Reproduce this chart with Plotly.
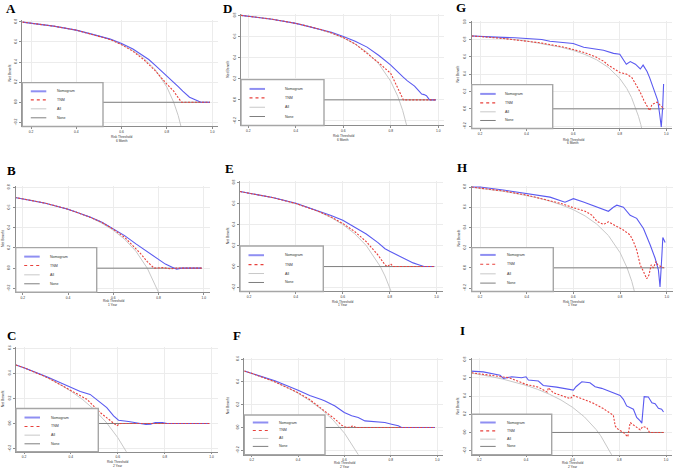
import plotly.graph_objects as go

# ---- data ----
A_all_x = [0.162, 0.2, 0.25, 0.3, 0.35, 0.4, 0.45, 0.5, 0.55, 0.6, 0.65, 0.7, 0.75, 0.8, 0.83, 0.85, 0.87]
A_all_y = [0.797, 0.788, 0.773, 0.757, 0.738, 0.717, 0.691, 0.66, 0.622, 0.575, 0.514, 0.433, 0.32, 0.15, 0.0, -0.133, -0.31]
A_nom_x = [0.162, 0.2, 0.3, 0.4, 0.5, 0.55, 0.6, 0.65, 0.7, 0.72, 0.75, 0.78, 0.8, 0.83, 0.85, 0.87, 0.89, 0.9, 0.92, 0.94, 0.95, 0.99]
A_nom_y = [0.797, 0.788, 0.757, 0.717, 0.662, 0.628, 0.585, 0.53, 0.455, 0.425, 0.365, 0.305, 0.265, 0.2, 0.155, 0.11, 0.07, 0.05, 0.03, 0.01, 0.0, 0.0]
A_tnm_x = [0.162, 0.2, 0.3, 0.4, 0.5, 0.55, 0.6, 0.65, 0.7, 0.75, 0.8, 0.83, 0.85, 0.865, 0.9, 0.99]
A_tnm_y = [0.797, 0.788, 0.757, 0.717, 0.66, 0.624, 0.572, 0.507, 0.42, 0.31, 0.18, 0.11, 0.045, 0.0, 0.0, 0.0]

D_all_x = [0.169, 0.2, 0.25, 0.3, 0.35, 0.4, 0.45, 0.5, 0.55, 0.6, 0.65, 0.7, 0.75, 0.8, 0.83, 0.85, 0.87]
D_all_y = [0.801, 0.794, 0.78, 0.764, 0.746, 0.725, 0.70, 0.67, 0.633, 0.587, 0.529, 0.45, 0.34, 0.175, 0.03, -0.1, -0.27]
D_nom_x = [0.169, 0.3, 0.4, 0.5, 0.55, 0.6, 0.65, 0.7, 0.75, 0.8, 0.83, 0.85, 0.87, 0.9, 0.92, 0.93, 0.94, 0.95, 0.96, 0.965, 0.99]
D_nom_y = [0.801, 0.764, 0.725, 0.672, 0.64, 0.60, 0.555, 0.50, 0.42, 0.33, 0.26, 0.22, 0.18, 0.13, 0.08, 0.055, 0.05, 0.04, 0.01, 0.0, 0.0]
D_tnm_x = [0.169, 0.3, 0.4, 0.5, 0.55, 0.6, 0.65, 0.7, 0.75, 0.8, 0.818, 0.832, 0.846, 0.853, 0.99]
D_tnm_y = [0.801, 0.764, 0.725, 0.67, 0.635, 0.59, 0.53, 0.44, 0.35, 0.25, 0.16, 0.10, 0.025, 0.0, 0.0]

G_all_x = [0.164, 0.2, 0.3, 0.4, 0.5, 0.55, 0.6, 0.65, 0.7, 0.75, 0.8, 0.83, 0.85, 0.87, 0.88, 0.89, 0.9]
G_all_y = [0.845, 0.838, 0.814, 0.783, 0.74, 0.71, 0.675, 0.628, 0.567, 0.48, 0.35, 0.235, 0.133, 0.0, -0.085, -0.18, -0.3]
G_nom_x = [0.164, 0.2, 0.25, 0.3, 0.35, 0.4, 0.45, 0.465, 0.5, 0.55, 0.6, 0.645, 0.7, 0.73, 0.773, 0.8, 0.828, 0.845, 0.867, 0.888, 0.9, 0.917, 0.928, 0.94, 0.953, 0.963, 0.971, 0.978, 0.984, 0.988]
G_nom_y = [0.84, 0.838, 0.83, 0.825, 0.82, 0.81, 0.795, 0.8, 0.78, 0.77, 0.755, 0.71, 0.69, 0.677, 0.64, 0.63, 0.515, 0.546, 0.515, 0.46, 0.505, 0.43, 0.36, 0.27, 0.19, 0.095, -0.06, -0.21, 0.02, 0.287]
G_tnm_x = [0.164, 0.2, 0.3, 0.4, 0.45, 0.5, 0.55, 0.6, 0.65, 0.7, 0.73, 0.75, 0.78, 0.8, 0.83, 0.852, 0.867, 0.888, 0.903, 0.917, 0.928, 0.938, 0.96, 0.974, 0.99]
G_tnm_y = [0.84, 0.835, 0.812, 0.785, 0.765, 0.742, 0.718, 0.685, 0.648, 0.595, 0.55, 0.505, 0.45, 0.42, 0.4, 0.36, 0.29, 0.19, 0.1, 0.04, -0.02, 0.05, 0.077, 0.04, 0.0]

B_all_x = [0.165, 0.2, 0.25, 0.3, 0.35, 0.4, 0.45, 0.5, 0.55, 0.6, 0.65, 0.7, 0.75, 0.78, 0.81]
B_all_y = [0.70, 0.688, 0.667, 0.643, 0.615, 0.583, 0.545, 0.5, 0.444, 0.375, 0.286, 0.167, 0.0, -0.136, -0.29]
B_nom_x = [0.165, 0.3, 0.4, 0.5, 0.55, 0.6, 0.65, 0.7, 0.75, 0.8, 0.83, 0.86, 0.88, 0.9, 0.99]
B_nom_y = [0.70, 0.643, 0.583, 0.503, 0.455, 0.392, 0.322, 0.24, 0.16, 0.08, 0.04, 0.01, -0.01, 0.0, 0.0]
B_tnm_x = [0.165, 0.3, 0.4, 0.5, 0.55, 0.6, 0.65, 0.7, 0.72, 0.75, 0.77, 0.78, 0.82, 0.85, 0.88, 0.99]
B_tnm_y = [0.70, 0.643, 0.583, 0.502, 0.452, 0.385, 0.305, 0.195, 0.145, 0.065, 0.02, 0.0, 0.005, -0.006, 0.0, 0.0]

E_all_x = [0.162, 0.2, 0.25, 0.3, 0.35, 0.4, 0.45, 0.5, 0.55, 0.6, 0.65, 0.7, 0.75, 0.76, 0.78, 0.8, 0.81]
E_all_y = [0.714, 0.70, 0.68, 0.657, 0.631, 0.60, 0.564, 0.52, 0.467, 0.40, 0.314, 0.20, 0.04, 0.0, -0.09, -0.2, -0.26]
E_nom_x = [0.162, 0.3, 0.4, 0.5, 0.55, 0.6, 0.65, 0.7, 0.75, 0.78, 0.8, 0.85, 0.88, 0.9, 0.92, 0.94, 0.946, 0.99]
E_nom_y = [0.714, 0.657, 0.602, 0.53, 0.487, 0.44, 0.375, 0.31, 0.228, 0.17, 0.145, 0.09, 0.05, 0.035, 0.02, 0.005, 0.0, 0.0]
E_tnm_x = [0.162, 0.3, 0.4, 0.5, 0.55, 0.6, 0.65, 0.7, 0.75, 0.77, 0.78, 0.79, 0.804, 0.815, 0.99]
E_tnm_y = [0.714, 0.657, 0.60, 0.522, 0.472, 0.41, 0.335, 0.237, 0.11, 0.047, 0.016, 0.0, 0.025, 0.0, 0.0]

H_all_x = [0.164, 0.2, 0.25, 0.3, 0.35, 0.4, 0.45, 0.5, 0.55, 0.6, 0.65, 0.7, 0.75, 0.8, 0.83, 0.85, 0.87]
H_all_y = [0.797, 0.788, 0.773, 0.757, 0.738, 0.717, 0.691, 0.66, 0.622, 0.575, 0.514, 0.433, 0.32, 0.15, 0.0, -0.133, -0.31]
H_nom_x = [0.164, 0.2, 0.3, 0.4, 0.5, 0.564, 0.6, 0.643, 0.714, 0.75, 0.771, 0.786, 0.814, 0.843, 0.871, 0.9, 0.929, 0.95, 0.964, 0.971, 0.979, 0.983, 0.993]
H_nom_y = [0.80, 0.80, 0.77, 0.734, 0.70, 0.65, 0.685, 0.652, 0.587, 0.56, 0.60, 0.62, 0.60, 0.52, 0.49, 0.39, 0.226, 0.095, -0.02, -0.19, 0.128, 0.30, 0.252]
H_tnm_x = [0.164, 0.2, 0.3, 0.4, 0.5, 0.55, 0.6, 0.65, 0.68, 0.7, 0.729, 0.75, 0.786, 0.814, 0.843, 0.857, 0.871, 0.879, 0.886, 0.9, 0.914, 0.924, 0.933, 0.943, 0.953, 0.961, 0.986]
H_tnm_y = [0.80, 0.79, 0.76, 0.72, 0.668, 0.635, 0.595, 0.56, 0.52, 0.462, 0.43, 0.456, 0.41, 0.374, 0.325, 0.26, 0.177, 0.11, 0.03, -0.036, -0.108, -0.069, 0.03, 0.0, 0.062, 0.03, 0.0]

C_all_x = [0.166, 0.2, 0.25, 0.3, 0.35, 0.4, 0.45, 0.5, 0.55, 0.6, 0.64]
C_all_y = [0.466, 0.444, 0.407, 0.364, 0.315, 0.258, 0.191, 0.11, 0.011, -0.113, -0.236]
C_nom_x = [0.166, 0.2, 0.3, 0.404, 0.44, 0.482, 0.525, 0.553, 0.582, 0.603, 0.646, 0.695, 0.72, 0.74, 0.76, 0.79, 0.81, 0.85, 0.99]
C_nom_y = [0.466, 0.444, 0.37, 0.28, 0.255, 0.232, 0.166, 0.127, 0.06, 0.026, 0.016, 0.0, -0.008, -0.005, 0.008, 0.008, 0.0, 0.0, 0.0]
C_tnm_x = [0.166, 0.2, 0.3, 0.404, 0.468, 0.525, 0.567, 0.596, 0.61, 0.7, 0.72, 0.74, 0.99]
C_tnm_y = [0.466, 0.444, 0.366, 0.262, 0.193, 0.087, 0.021, -0.018, 0.0, 0.0, -0.005, 0.0, 0.0]

F_all_x = [0.168, 0.2, 0.25, 0.3, 0.35, 0.4, 0.45, 0.5, 0.55, 0.6, 0.65, 0.66]
F_all_y = [0.495, 0.475, 0.44, 0.40, 0.354, 0.30, 0.236, 0.16, 0.067, -0.05, -0.2, -0.24]
F_nom_x = [0.168, 0.2, 0.3, 0.4, 0.45, 0.5, 0.516, 0.559, 0.599, 0.631, 0.659, 0.688, 0.731, 0.774, 0.803, 0.832, 0.846, 0.99]
F_nom_y = [0.495, 0.476, 0.41, 0.326, 0.28, 0.245, 0.233, 0.189, 0.131, 0.102, 0.087, 0.058, 0.049, 0.044, 0.029, 0.015, 0.0, 0.0]
F_tnm_x = [0.168, 0.2, 0.3, 0.4, 0.45, 0.516, 0.559, 0.588, 0.6, 0.616, 0.638, 0.648, 0.99]
F_tnm_y = [0.495, 0.475, 0.40, 0.305, 0.245, 0.145, 0.073, 0.02, 0.006, 0.0, 0.015, 0.0, 0.0]

I_all_x = [0.167, 0.2, 0.25, 0.3, 0.35, 0.4, 0.45, 0.5, 0.55, 0.6, 0.65, 0.7, 0.72, 0.74, 0.76, 0.77]
I_all_y = [0.652, 0.638, 0.613, 0.586, 0.554, 0.517, 0.473, 0.42, 0.356, 0.275, 0.171, 0.033, -0.036, -0.125, -0.208, -0.26]
I_nom_x = [0.164, 0.217, 0.289, 0.303, 0.339, 0.381, 0.4, 0.41, 0.453, 0.474, 0.531, 0.581, 0.603, 0.614, 0.639, 0.674, 0.696, 0.724, 0.767, 0.803, 0.817, 0.831, 0.86, 0.874, 0.889, 0.896, 0.906, 0.924, 0.939, 0.953, 0.967, 0.981, 0.989]
I_nom_y = [0.673, 0.665, 0.629, 0.593, 0.611, 0.60, 0.611, 0.575, 0.564, 0.516, 0.498, 0.48, 0.465, 0.502, 0.556, 0.545, 0.502, 0.484, 0.444, 0.407, 0.364, 0.291, 0.255, 0.164, 0.127, 0.102, 0.393, 0.389, 0.327, 0.316, 0.265, 0.255, 0.225]
I_tnm_x = [0.167, 0.25, 0.329, 0.4, 0.45, 0.491, 0.496, 0.517, 0.56, 0.59, 0.603, 0.646, 0.689, 0.731, 0.76, 0.774, 0.782, 0.789, 0.817, 0.836, 0.846, 0.874, 0.889, 0.9, 0.917, 0.929, 0.989]
I_tnm_y = [0.655, 0.628, 0.60, 0.527, 0.5, 0.444, 0.49, 0.436, 0.393, 0.371, 0.407, 0.364, 0.32, 0.262, 0.218, 0.189, 0.073, 0.044, 0.0, -0.047, 0.109, 0.055, 0.029, 0.065, 0.055, 0.0, 0.0]

none_x = [0.16, 0.99]
none_y = [0.0, 0.0]

x_ticks = [0.2, 0.4, 0.6, 0.8, 1.0]
legend_names = ['Nomogram', 'TNM', 'All', 'None']
periods = {'A': '6 Month', 'D': '6 Month', 'G': '6 Month',
           'B': '1 Year', 'E': '1 Year', 'H': '1 Year',
           'C': '2 Year', 'F': '2 Year', 'I': '2 Year'}

curves = {
    'A': (A_all_x, A_all_y, A_nom_x, A_nom_y, A_tnm_x, A_tnm_y),
    'D': (D_all_x, D_all_y, D_nom_x, D_nom_y, D_tnm_x, D_tnm_y),
    'G': (G_all_x, G_all_y, G_nom_x, G_nom_y, G_tnm_x, G_tnm_y),
    'B': (B_all_x, B_all_y, B_nom_x, B_nom_y, B_tnm_x, B_tnm_y),
    'E': (E_all_x, E_all_y, E_nom_x, E_nom_y, E_tnm_x, E_tnm_y),
    'H': (H_all_x, H_all_y, H_nom_x, H_nom_y, H_tnm_x, H_tnm_y),
    'C': (C_all_x, C_all_y, C_nom_x, C_nom_y, C_tnm_x, C_tnm_y),
    'F': (F_all_x, F_all_y, F_nom_x, F_nom_y, F_tnm_x, F_tnm_y),
    'I': (I_all_x, I_all_y, I_nom_x, I_nom_y, I_tnm_x, I_tnm_y),
}

# ---- panel geometry in pixels (left axis, x of 0.2, px per 0.2, bottom axis, y of 0, px per 0.2 ...) ----
W, H = 676, 471
geom = {
    'A': dict(left=22.3, x02=31.0, kx=45.3, bottom=126.0, y0=101.7, ky=20.2, ytop=0.8, legr=103.0, legt=82.0,
              rows=[90.7, 99.3, 108.3, 117.3], lab=32.7, letter=(11, 8), ytx=10, t=(136.4, 140.2)),
    'D': dict(left=241.0, x02=248.3, kx=47.5, bottom=125.0, y0=99.3, ky=21.2, ytop=0.8, legr=324.0, legt=79.0,
              rows=[88.3, 97.3, 106.7, 116.0], lab=42.0, letter=(227, 8), ytx=228, t=(135.9, 139.7)),
    'G': dict(left=471.7, x02=480.0, kx=46.6, bottom=128.0, y0=108.3, ky=17.4, ytop=1.0, legr=552.7, legt=84.0,
              rows=[93.3, 102.3, 111.3, 120.0], lab=31.7, letter=(461, 7), ytx=458, t=(139.3, 143.1)),
    'B': dict(left=15.7, x02=22.7, kx=45.3, bottom=292.5, y0=268.3, ky=20.3, ytop=0.8, legr=96.7, legt=247.7,
              rows=[256.7, 265.7, 275.0, 284.0], lab=32.6, letter=(11, 170), ytx=3, t=(301.0, 304.8)),
    'E': dict(left=240.0, x02=249.0, kx=46.9, bottom=291.7, y0=266.7, ky=21.1, ytop=0.8, legr=323.3, legt=246.0,
              rows=[255.3, 264.7, 273.7, 282.7], lab=43.0, letter=(229, 168), ytx=228, t=(301.8, 305.6)),
    'H': dict(left=471.7, x02=480.0, kx=46.7, bottom=291.7, y0=268.0, ky=20.3, ytop=0.8, legr=553.3, legt=247.7,
              rows=[255.0, 264.3, 274.0, 283.3], lab=33.3, letter=(462, 167.5), ytx=459, t=(301.8, 305.6)),
    'C': dict(left=16.0, x02=24.0, kx=46.9, bottom=452.7, y0=424.3, ky=25.2, ytop=0.6, legr=98.3, legt=409.3,
              rows=[418.3, 427.3, 436.0, 444.7], lab=33.3, letter=(11, 336), ytx=3, t=(462.9, 466.6)),
    'F': dict(left=244.3, x02=251.7, kx=46.4, bottom=455.7, y0=428.3, ky=22.9, ytop=0.6, legr=325.0, legt=415.7,
              rows=[423.3, 431.3, 439.3, 447.3], lab=32.4, letter=(236.5, 335.5), ytx=228, t=(464.2, 467.6)),
    'I': dict(left=471.7, x02=479.3, kx=46.7, bottom=455.7, y0=433.3, ky=18.3, ytop=0.8, legr=551.7, legt=415.0,
              rows=[423.3, 431.7, 440.0, 447.3], lab=33.3, letter=(462.5, 331), ytx=458, t=(464.2, 467.6)),
}

NOM_C = '#5a5af0'
TNM_C = '#e8413c'
ALL_C = '#c8c8c8'
NONE_C = '#7f7f7f'
AX_C = '#8c8c8c'
TXT = '#333333'
FONT = 'Liberation Sans'

fig = go.Figure()
shapes = []
annotations = []
layout = {}

for i, key in enumerate(['A', 'D', 'G', 'B', 'E', 'H', 'C', 'F', 'I']):
    g = geom[key]
    n = '' if i == 0 else str(i + 1)
    xa, ya = 'x' + n, 'y' + n
    all_x, all_y, nom_x, nom_y, tnm_x, tnm_y = curves[key]

    fig.add_trace(go.Scatter(x=all_x, y=all_y, mode='lines', line=dict(color=ALL_C, width=1),
                             xaxis=xa, yaxis=ya, showlegend=False, hoverinfo='skip'))
    fig.add_trace(go.Scatter(x=none_x, y=none_y, mode='lines', line=dict(color=NONE_C, width=1),
                             xaxis=xa, yaxis=ya, showlegend=False, hoverinfo='skip'))
    fig.add_trace(go.Scatter(x=nom_x, y=nom_y, mode='lines', line=dict(color=NOM_C, width=1.1),
                             xaxis=xa, yaxis=ya, showlegend=False, hoverinfo='skip'))
    fig.add_trace(go.Scatter(x=tnm_x, y=tnm_y, mode='lines', line=dict(color=TNM_C, width=1.1, dash='2px,1.5px'),
                             xaxis=xa, yaxis=ya, showlegend=False, hoverinfo='skip'))

    right = g['x02'] + 4 * g['kx'] + 6
    xr = [0.2 - (g['x02'] - g['left']) / g['kx'] * 0.2, 0.2 + (right - g['x02']) / g['kx'] * 0.2]
    top = g['y0'] - g['ytop'] / 0.2 * g['ky'] - 1.5
    yr = [(g['y0'] - g['bottom']) / g['ky'] * 0.2, (g['y0'] - top) / g['ky'] * 0.2]
    yt = [round(-0.2 + 0.2 * k, 1) for k in range(int(round((g['ytop'] + 0.2) / 0.2)) + 1)]

    layout['xaxis' + n] = dict(domain=[g['left'] / W, right / W], range=xr, anchor=ya,
                               tickvals=x_ticks, tickformat='.1f', ticks='outside', ticklen=1.5,
                               tickcolor=AX_C, tickwidth=0.6, ticklabelstandoff=0,
                               showline=True, linecolor=AX_C, linewidth=1,
                               showgrid=True, gridcolor='#ececec', gridwidth=0.6, zeroline=False,
                               tickfont=dict(size=3.3, color=TXT, family=FONT))
    layout['yaxis' + n] = dict(domain=[1 - g['bottom'] / H, 1 - top / H], range=yr, anchor=xa,
                               tickvals=yt, tickformat='.1f', ticks='outside', ticklen=2,
                               tickcolor=AX_C, tickwidth=0.6, tickangle=-90, ticklabelstandoff=1,
                               showline=True, linecolor=AX_C, linewidth=1,
                               showgrid=True, gridcolor='#ececec', gridwidth=0.6, zeroline=False,
                               tickfont=dict(size=3.4, color=TXT, family=FONT))

    # legend box drawn over the curves
    shapes.append(dict(type='rect', xref='paper', yref='paper', layer='above',
                       x0=g['left'] / W, x1=g['legr'] / W, y0=1 - g['bottom'] / H, y1=1 - g['legt'] / H,
                       fillcolor='white', line=dict(color='#a6a6a6', width=1.4)))
    key_styles = [dict(color='#8f8ff2', width=2), dict(color=TNM_C, width=1.1, dash='dot'),
                  dict(color=ALL_C, width=1), dict(color=NONE_C, width=1)]
    for row, st, name in zip(g['rows'], key_styles, legend_names):
        shapes.append(dict(type='line', xref='paper', yref='paper', layer='above',
                           x0=(g['left'] + 8.5) / W, x1=(g['left'] + 24) / W,
                           y0=1 - row / H, y1=1 - row / H, line=st))
        annotations.append(dict(text=name, xref='paper', yref='paper', x=(g['left'] + g['lab']) / W,
                                y=1 - row / H, xanchor='left', yanchor='middle', showarrow=False,
                                font=dict(size=3.6, color=TXT, family=FONT)))

    # panel letter
    annotations.append(dict(text='<b>%s</b>' % key, xref='paper', yref='paper',
                            x=g['letter'][0] / W, y=1 - g['letter'][1] / H, xanchor='center', yanchor='middle',
                            showarrow=False, font=dict(size=13, color='black', family='Liberation Serif')))
    # x title (two lines) and y title
    for txt, ty in zip(['Risk Threshold', periods[key]], g['t']):
        annotations.append(dict(text=txt, xref=xa, yref='paper', x=0.6, y=1 - ty / H,
                                xanchor='center', yanchor='middle', showarrow=False,
                                font=dict(size=3.2, color=TXT, family=FONT)))
    annotations.append(dict(text='Net Benefit', xref='paper', yref='paper', x=g['ytx'] / W,
                            y=1 - (top + g['bottom']) / 2 / H, xanchor='center', yanchor='middle',
                            textangle=-90, showarrow=False, font=dict(size=3.4, color=TXT, family=FONT)))

fig.update_layout(width=W, height=H, margin=dict(l=0, r=0, t=0, b=0),
                  paper_bgcolor='white', plot_bgcolor='white', showlegend=False,
                  shapes=shapes, annotations=annotations, **layout)

# drop the page's default body margin so the figure sits at the window's corner
fig.write_html("out.html", config={'displayModeBar': False},
               post_script="document.body.style.margin='0px';document.body.style.overflow='hidden';")
